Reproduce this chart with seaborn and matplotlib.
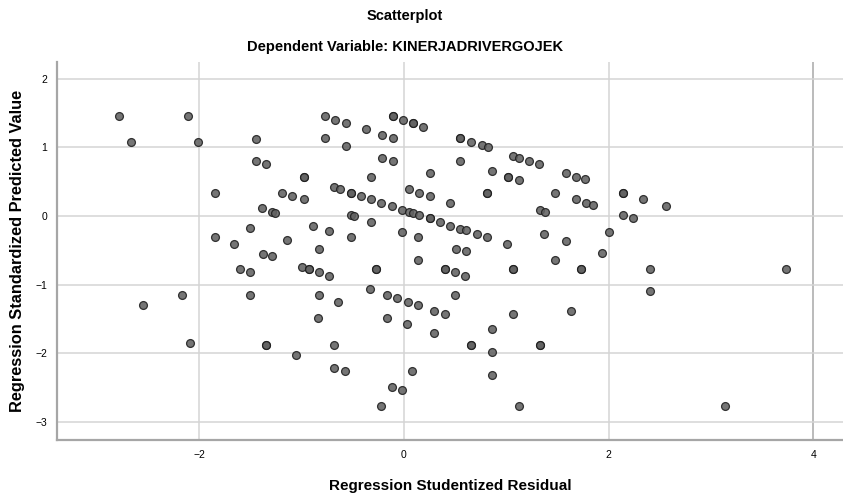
import matplotlib
matplotlib.use("Agg")
import matplotlib.pyplot as plt
import pandas as pd
import seaborn as sns

# Regression Studentized Residual (x) and Standardized Predicted Value (y)
residual = [
    -2.78, -2.67, -2.11, -2.01, -1.45, -1.45, -1.35, -1.85, -1.50, -1.85,
    -1.66, -1.60, -1.50, -2.17, -2.55, -1.50, -2.09,
    -0.77, -0.67, -0.57, -0.37, -0.21, -0.11, -0.77, -0.57, -0.11, -0.11,
    -0.01, 0.09, 0.09, 0.19, -0.21, -0.11, -0.98, -0.98, -0.32, 0.25,
    -1.19, -1.09, -0.98, -1.39, -1.29, -1.26, -0.68, -0.62, -0.52, -0.52,
    -0.42, -0.32, -0.22, -0.12, -0.02, 0.05, 0.09, 0.15, 0.25, 0.25,
    0.35, 0.45, 0.05, 0.15, 0.25, 0.45, -0.52, -0.49, -0.32, -0.89,
    -0.73, -0.02, 0.14, -1.14, -0.52, -0.83,
    -1.38, -1.29, -1.00, -0.93, -0.93, -0.83, -0.73, -0.27, -0.27, 0.14,
    0.40, 0.40, -0.83, -0.64, -0.33, -0.17, -0.07, 0.04, 0.14, 0.29,
    0.40, -0.84, -0.17, 0.03, 0.29, -1.35, -1.35, -0.68, -1.05, -0.68,
    -0.58, 0.08, -0.12, -0.02, -0.22,
    0.55, 0.55, 0.66, 0.76, 0.82, 0.55, 1.07, 1.12, 1.22, 1.32,
    0.86, 1.02, 1.02, 1.12, 1.58, 1.68, 1.77, 0.81, 0.81, 1.48,
    1.68, 1.78, 1.85, 1.33, 1.38, 2.14, 2.14, 2.34, 2.14, 2.24,
    0.55, 0.61, 0.71, 0.81, 1.37, 1.01, 1.58, 2.00, 0.51, 0.61,
    1.94, 1.48, 0.50, 0.60, 1.07, 1.07, 1.73, 1.73, 0.50, 1.07,
    1.63, 0.86, 0.66, 0.66, 1.33, 1.33, 0.86, 0.86, 1.12,
    2.56, 2.40, 3.73, 2.40, 3.14,
]
predicted = [
    1.45, 1.08, 1.45, 1.08, 1.12, 0.80, 0.75, 0.34, -0.17, -0.31,
    -0.41, -0.77, -0.81, -1.15, -1.30, -1.15, -1.85,
    1.45, 1.40, 1.36, 1.26, 1.18, 1.13, 1.13, 1.02, 1.45, 1.45,
    1.40, 1.36, 1.36, 1.30, 0.85, 0.80, 0.57, 0.57, 0.57, 0.62,
    0.34, 0.29, 0.24, 0.12, 0.06, 0.04, 0.42, 0.39, 0.34, 0.34,
    0.29, 0.24, 0.19, 0.15, 0.09, 0.06, 0.04, 0.01, -0.03, -0.03,
    -0.09, -0.14, 0.39, 0.34, 0.29, 0.19, 0.02, 0.00, -0.09, -0.14,
    -0.22, -0.23, -0.31, -0.35, -0.31, -0.48,
    -0.56, -0.59, -0.74, -0.77, -0.77, -0.82, -0.87, -0.77, -0.77, -0.64,
    -0.77, -0.77, -1.15, -1.25, -1.07, -1.15, -1.20, -1.25, -1.30, -1.38,
    -1.43, -1.48, -1.48, -1.57, -1.70, -1.88, -1.88, -1.88, -2.03, -2.21,
    -2.26, -2.26, -2.49, -2.54, -2.77,
    1.13, 1.13, 1.08, 1.03, 1.00, 0.80, 0.87, 0.85, 0.80, 0.75,
    0.65, 0.57, 0.57, 0.52, 0.62, 0.57, 0.54, 0.34, 0.34, 0.34,
    0.24, 0.19, 0.16, 0.09, 0.06, 0.34, 0.34, 0.24, 0.01, -0.03,
    -0.19, -0.21, -0.26, -0.31, -0.26, -0.41, -0.36, -0.23, -0.48, -0.51,
    -0.54, -0.64, -0.82, -0.87, -0.77, -0.77, -0.77, -0.77, -1.15, -1.43,
    -1.38, -1.65, -1.88, -1.88, -1.88, -1.88, -1.98, -2.31, -2.77,
    0.15, -0.77, -0.77, -1.10, -2.77,
]

df = pd.DataFrame({"Regression Studentized Residual": residual,
                   "Regression Standardized Predicted Value": predicted})

sns.set_style("white")
plt.rcParams["font.family"] = ["Liberation Sans", "DejaVu Sans"]
plt.rcParams["text.color"] = "black"
plt.rcParams["axes.labelcolor"] = "black"

fig = plt.figure(figsize=(8.43, 4.95), dpi=100)
ax = fig.add_axes([0.0676, 0.111, 0.9324, 0.764])

ax.grid(True, color="#d4d4d4", linewidth=1.1, zorder=0)
ax.set_axisbelow(True)

sns.scatterplot(data=df, x="Regression Studentized Residual",
                y="Regression Standardized Predicted Value", ax=ax,
                s=32, color="#626262", edgecolor="#1e1e1e", linewidth=0.9,
                alpha=0.88, zorder=3)

ax.set_xlim(-3.39, 4.29)
ax.set_ylim(-3.265, 2.245)
ax.set_xticks([-2, 0, 2, 4])
ax.set_yticks([-3, -2, -1, 0, 1, 2])
ax.tick_params(length=0, labelsize=7.5, colors="black", pad=7)

xgrid = ax.get_xgridlines()
xgrid[-1].set_color("#a8a8a8")

for side in ["top", "right"]:
    ax.spines[side].set_visible(False)
for side in ["left", "bottom"]:
    ax.spines[side].set_color("#a6a6a6")
    ax.spines[side].set_linewidth(1.6)

ax.set_xlabel("Regression Studentized Residual", fontsize=11, fontweight="bold", labelpad=14)
ax.set_ylabel("Regression Standardized Predicted Value", fontsize=11.8, fontweight="bold")
ax.yaxis.set_label_coords(-0.041, 0.5)

fig.text(0.48, 0.968, "Scatterplot", ha="center", va="center", fontsize=10.5, fontweight="bold")
fig.text(0.48, 0.905, "Dependent Variable: KINERJADRIVERGOJEK", ha="center", va="center",
         fontsize=10.5, fontweight="bold")

fig.savefig("out.png", dpi=100)
